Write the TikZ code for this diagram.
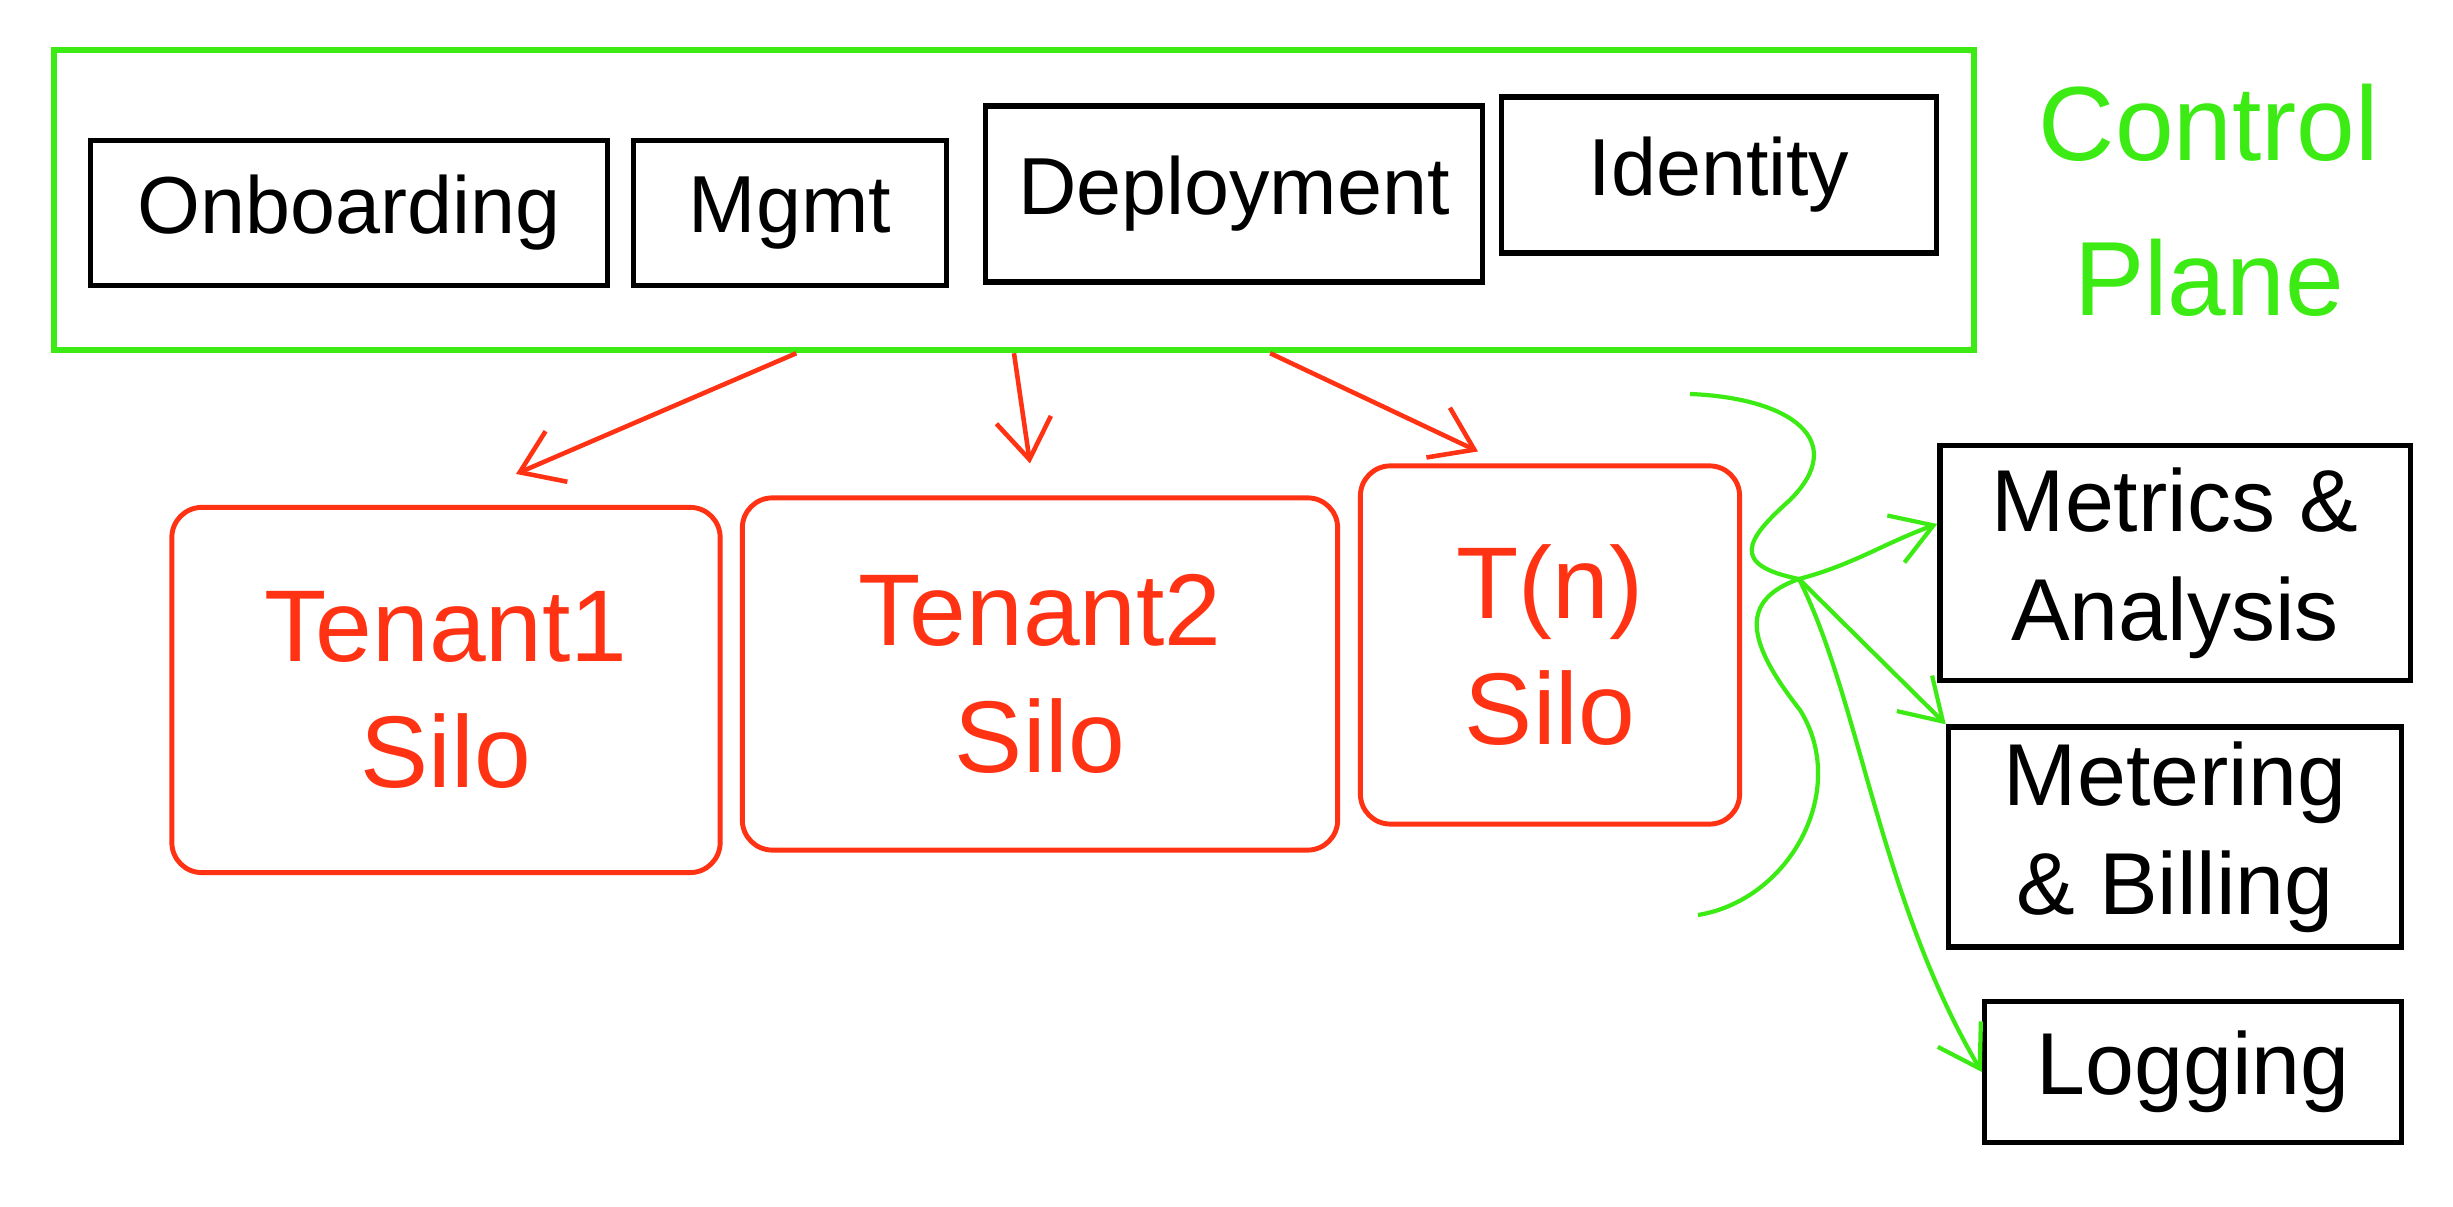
\documentclass[tikz,border=0pt]{standalone}
\usepackage{fontspec}
\setmainfont{Liberation Sans}
\usetikzlibrary{shapes, arrows.meta, calc, positioning}
\definecolor{cpgreen}{rgb}{0.24, 0.92, 0.08}
\definecolor{silored}{rgb}{1.0, 0.2, 0.08}

\begin{document}
\begin{tikzpicture}[x=0.01cm, y=-0.01cm,
    svcbox/.style = {draw=black, line width=1.5pt, inner sep=0pt, font=\fontsize{23}{28}\selectfont},
    silobox/.style = {draw=silored, line width=1.4pt, rounded corners=0.3cm, inner sep=0pt, text=silored, align=center, font=\fontsize{29}{36}\selectfont},
    sidebox/.style = {draw=black, line width=1.5pt, inner sep=0pt, align=center, font=\fontsize{25}{31}\selectfont},
    redarrow/.style = {silored, line width=1.3pt, -{Straight Barb[length=0.4cm, width=0.55cm]}},
    greenarrow/.style = {cpgreen, line width=1.2pt, -{Straight Barb[length=0.4cm, width=0.5cm]}}]

    \useasboundingbox (0,0) rectangle (2453,1207);

    \node[draw=cpgreen, line width=1.8pt, minimum width=19.19cm, minimum height=3cm] (cp) at (1014,200) {};
    \node[svcbox, minimum width=5.16cm, minimum height=1.45cm] (onb) at (349,213) {Onboarding};
    \node[svcbox, minimum width=3.13cm, minimum height=1.45cm] (mgmt) at (790,213) {Mgmt};
    \node[svcbox, minimum width=4.97cm, minimum height=1.76cm] (dep) at (1234,194) {Deployment};
    \node[svcbox, minimum width=4.35cm, minimum height=1.56cm] (idn) at (1719,175) {Identity};
    \node[text=cpgreen, align=center, font=\fontsize{30}{44}\selectfont] (cplabel) at (2209,200) {Control\\Plane};

    \node[silobox, minimum width=5.48cm, minimum height=3.65cm] (t1) at (446,690) {Tenant1\\Silo};
    \node[silobox, minimum width=5.95cm, minimum height=3.52cm] (t2) at (1040,674) {Tenant2\\Silo};
    \node[silobox, minimum width=3.79cm, minimum height=3.58cm] (tn) at (1550,645) {T(n)\\Silo};

    \draw[redarrow] ($(cp.south west)!0.387!(cp.south east)$) -- ([shift={(70,-31)}]t1.north);
    \draw[redarrow] (cp.south) -- ([shift={(-10,-32)}]t2.north);
    \draw[redarrow] ($(cp.south west)!0.633!(cp.south east)$) -- ([shift={(-72,-12)}]tn.north);

    \node[sidebox, minimum width=4.7cm, minimum height=2.35cm] (met) at (2175,563) {Metrics \&\\Analysis};
    \node[sidebox, minimum width=4.53cm, minimum height=2.2cm] (mtr) at (2175,837) {Metering\\\& Billing};
    \node[sidebox, minimum width=4.17cm, minimum height=1.41cm] (log) at (2193,1072) {Logging};

    \draw[cpgreen, line width=1.2pt, line join=miter]
        (1690,394) .. controls (1790,398) and (1850,440) .. (1790,500)
        .. controls (1745,540) and (1730,565) .. (1799,579) coordinate (tip)
        .. controls (1740,600) and (1745,640) .. (1800,710)
        .. controls (1850,790) and (1790,900) .. (1698,915);

    \draw[greenarrow] (tip) to[out=15, in=200] ([yshift=0.39cm]met.west);
    \draw[greenarrow] (tip) -- (mtr.north west);
    \draw[greenarrow] (tip) .. controls (1860,700) and (1880,900) .. (log.west);
\end{tikzpicture}
\end{document}
